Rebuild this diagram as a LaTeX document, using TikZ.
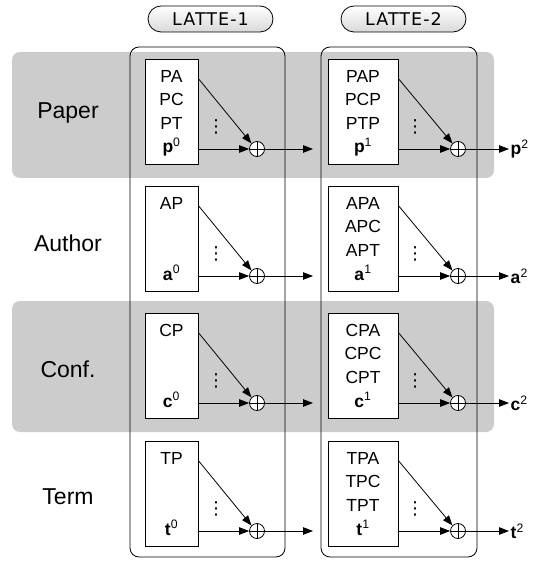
\documentclass[tikz,border=0pt]{standalone}
\usepackage{fontspec}
\setmainfont{Liberation Sans}
\newfontfamily\lattefont[LetterSpace=6]{DejaVu Sans}
\newfontfamily\dotsfont{DejaVu Sans}
\usetikzlibrary{arrows.meta,shadings}

\tikzset{
	band/.style={fill=gray!40, rounded corners=8pt},
	latte/.style={draw, line width=0.8pt, rounded corners=9pt},
	pill/.style={draw, line width=0.8pt, rounded corners=13pt, top color=white,
		bottom color=gray!30, minimum width=125pt, minimum height=26pt,
		inner sep=0pt, font=\lattefont\fontsize{17.5}{20}\selectfont},
	varbox/.style={draw, fill=white, line width=0.8pt, minimum height=105pt,
		inner sep=0pt},
	boxtext/.style={inner sep=0pt, align=center,
		font=\fontsize{17.5}{23.5}\selectfont},
	dotsnode/.style={inner sep=0pt, font=\dotsfont\fontsize{18}{18}\selectfont},
	sumnode/.style={circle, draw, fill=white, line width=0.8pt,
		minimum size=15pt, inner sep=0pt,
		path picture={\draw (path picture bounding box.north) --
			(path picture bounding box.south) (path picture bounding box.west) --
			(path picture bounding box.east);}},
	arr/.style={-{Triangle[length=10pt,width=7.5pt]}, line width=0.8pt},
	rowlabel/.style={font=\fontsize{23}{26}\selectfont, anchor=base},
}

\begin{document}
\begin{tikzpicture}[x=1pt, y=-1pt]
	\useasboundingbox (0,0) rectangle (540,561);
	% graue Baender
	\fill[band] (12,52) rectangle (494,178);
	\fill[band] (12,301) rectangle (494,432);
	% Schichten
	\draw[latte] (130,47) rectangle (285,557);
	\draw[latte] (321,47) rectangle (477,557);
	\node[pill] (latte1) at (210.5,19) {LATTE-1};
	\node[pill] (latte2) at (403.5,19) {LATTE-2};
	% Zeilen
	\foreach \ry/\lb/\nm/\name/\txtA/\txtB in {
		59/119/p/Paper/PA\\PC\\PT/PAP\\PCP\\PTP,
		186/251/a/Author/AP/APA\\APC\\APT,
		313/377/c/Conf./CP/CPA\\CPC\\CPT,
		441/504/t/Term/TP/TPA\\TPC\\TPT} {
		\node[rowlabel] (\nm row) at (68,\lb) {\name};
		% Spalte 1
		\node[varbox, minimum width=53pt] (\nm box0) at (171.5,\ry+52.5) {};
		\node[boxtext, anchor=north] (\nm lst0) at (171.5,\ry+11) {\txtA};
		\node[boxtext, anchor=base] (\nm vec0) at (171.5,\ry+94)
			{\textbf{\nm}\textsuperscript{0}};
		\node[sumnode] (\nm sum0) at (257,\ry+90) {};
		\node[dotsnode] (\nm dots0) at (216,\ry+68) {⋮};
		\draw[arr] ([yshift=-20pt]\nm box0.north east) -- (\nm sum0.north west);
		\draw[arr] (\nm box0.east |- \nm sum0) -- (\nm sum0);
		\coordinate (\nm in1) at (313,\ry+90);
		\draw[arr] (\nm sum0) -- (\nm in1);
		% Spalte 2
		\node[varbox, minimum width=70pt] (\nm box1) at (363,\ry+52.5) {};
		\node[boxtext, anchor=north] (\nm lst1) at (363,\ry+11) {\txtB};
		\node[boxtext, anchor=base] (\nm vec1) at (363,\ry+94)
			{\textbf{\nm}\textsuperscript{1}};
		\node[sumnode] (\nm sum1) at (458,\ry+90) {};
		\node[dotsnode] (\nm dots1) at (415,\ry+68) {⋮};
		\draw[arr] ([yshift=-20pt]\nm box1.north east) -- (\nm sum1.north west);
		\draw[arr] (\nm box1.east |- \nm sum1) -- (\nm sum1);
		\node[boxtext, anchor=west, inner sep=1.5pt] (\nm out) at (509,\ry+90)
			{\textbf{\nm}\textsuperscript{2}};
		\draw[arr] (\nm sum1) -- (\nm out);
	}
\end{tikzpicture}
\end{document}
